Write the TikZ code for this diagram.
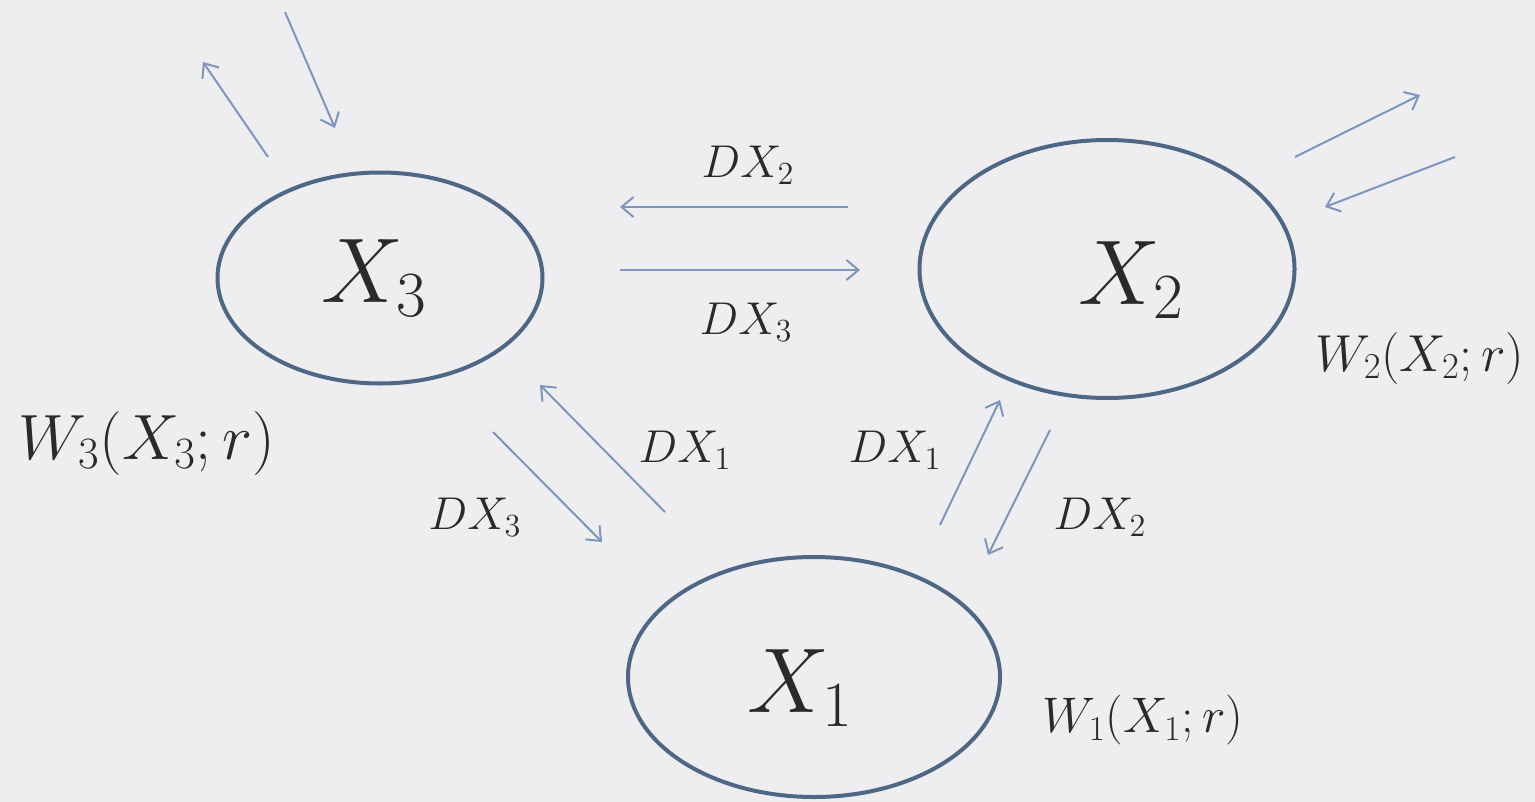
\documentclass[tikz,border=0pt]{standalone}
\usepackage{fix-cm}
\usetikzlibrary{shapes.geometric,arrows.meta}
\definecolor{bg}{HTML}{EEEEF0}
\definecolor{ringc}{HTML}{4E6785}
\definecolor{arrc}{HTML}{7D96BE}
\definecolor{ink}{HTML}{2A2A2A}
\tikzset{
  ring/.style={draw=ringc, line width=2pt, ellipse, inner sep=0pt},
  flow/.style={draw=arrc, line width=1pt, -{Straight Barb[length=6pt,width=10pt]}},
  big/.style={text=ink, font=\fontsize{46}{50}\selectfont, inner sep=0pt},
  lbl/.style={text=ink, font=\fontsize{23}{26}\selectfont, inner sep=0pt},
}
\begin{document}
\begin{tikzpicture}[x=0.5pt,y=-0.5pt]
\fill[bg] (0,0) rectangle (1535,802);
\useasboundingbox (0,0) rectangle (1535,802);

% ellipses
\node[ring, minimum width=162.5pt, minimum height=105.5pt] (e3) at (380,278) {};
\node[ring, minimum width=187.5pt, minimum height=129pt] (e2) at (1107,269) {};
\node[ring, minimum width=186pt, minimum height=120pt] (e1) at (814,677) {};

\node[big] (t3) at (374,278) {$X_3$};
\node[big] (t2) at (1131,280) {$X_2$};
\node[big] (t1) at (800,688) {$X_1$};

% labels
\node[lbl, font=\fontsize{32}{36}\selectfont] (w3) at (147,443) {$W_3(X_3;r)$};
\node[lbl, font=\fontsize{26}{30}\selectfont] (w2) at (1420,358) {$W_2(X_2;r)$};
\node[lbl, font=\fontsize{25}{28}\selectfont] (w1) at (1143,720) {$W_1(X_1;r)$};

\node[lbl] (d2t) at (748,165) {$DX_2$};
\node[lbl] (d3m) at (746,322) {$DX_3$};
\node[lbl] (d3l) at (475,517) {$DX_3$};
\node[lbl] (d1l) at (685,450) {$DX_1$};
\node[lbl] (d1r) at (895,450) {$DX_1$};
\node[lbl] (d2r) at (1100,517) {$DX_2$};

% arrow end points
\coordinate (a1s) at (268,157); \coordinate (a1e) at (203,62);
\coordinate (a2s) at (285,12);  \coordinate (a2e) at (335,128);
\coordinate (a3s) at (848,207); \coordinate (a3e) at (620,207);
\coordinate (a4s) at (620,270); \coordinate (a4e) at (860,270);
\coordinate (a5s) at (1295,157); \coordinate (a5e) at (1420,95);
\coordinate (a6s) at (1455,157); \coordinate (a6e) at (1325,207);
\coordinate (a7s) at (493,432); \coordinate (a7e) at (602,542);
\coordinate (a8s) at (665,512); \coordinate (a8e) at (540,385);
\coordinate (a9s) at (940,525); \coordinate (a9e) at (1000,400);
\coordinate (a10s) at (1050,430); \coordinate (a10e) at (988,555);

\draw[flow] (a1s) -- (a1e);
\draw[flow] (a2s) -- (a2e);
\draw[flow] (a3s) -- (a3e);
\draw[flow] (a4s) -- (a4e);
\draw[flow] (a5s) -- (a5e);
\draw[flow] (a6s) -- (a6e);
\draw[flow] (a7s) -- (a7e);
\draw[flow] (a8s) -- (a8e);
\draw[flow] (a9s) -- (a9e);
\draw[flow] (a10s) -- (a10e);
\end{tikzpicture}
\end{document}
